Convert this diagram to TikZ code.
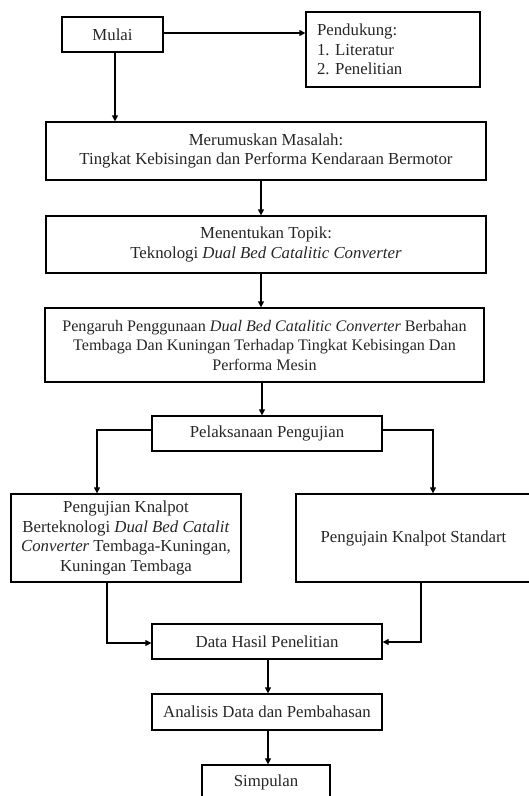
\documentclass[tikz,border=0pt]{standalone}
\usepackage{fontspec}
\setmainfont{Liberation Serif}
\usetikzlibrary{arrows.meta,calc}
\frenchspacing
\begin{document}
\begin{tikzpicture}[x=1pt,y=-1pt,
  box/.style={draw=black, line width=1.3pt, rectangle, inner sep=2pt, align=center,
    font=\fontsize{16.8}{19.5}\selectfont, text=black!85},
  conn/.style={draw=black, line width=1.3pt, -{Triangle[length=6pt,width=6pt]}}]
\useasboundingbox (0,0) rectangle (529,796);
\clip (0,0) rectangle (529,796);
\fill[white] (0,0) rectangle (529,796);

\node[box, minimum width=101pt, minimum height=35pt] (mulai) at (112.5,34.5) {Mulai};
\node[box, minimum width=174pt, minimum height=75pt, align=left, text width=152pt, inner xsep=11pt]
  (pendukung) at (393,49.5) {\frenchspacing Pendukung:\\1. Literatur\\2. Penelitian};
\node[box, minimum width=440pt, minimum height=58pt] (merumuskan) at (266,151)
  {Merumuskan Masalah:\\Tingkat Kebisingan dan Performa Kendaraan Bermotor};
\node[box, minimum width=440pt, minimum height=57pt] (menentukan) at (266,244.5)
  {Menentukan Topik:\\Teknologi \textit{Dual Bed Catalitic Converter}};
\node[box, minimum width=439pt, minimum height=74pt, font=\fontsize{16.1}{19.5}\selectfont] (pengaruh) at (264.5,345)
  {Pengaruh Penggunaan \textit{Dual Bed Catalitic Converter} Berbahan\\
   Tembaga Dan Kuningan Terhadap Tingkat Kebisingan Dan\\Performa Mesin};
\node[box, minimum width=230pt, minimum height=35pt] (pelaksanaan) at (267,433.5) {Pelaksanaan Pengujian};
\node[box, minimum width=230pt, minimum height=88pt] (kiri) at (126,538)
  {Pengujian Knalpot\\Berteknologi \textit{Dual Bed Catalit}\\\textit{Converter} Tembaga-Kuningan,\\Kuningan Tembaga};
\node[box, minimum width=235pt, minimum height=88pt] (kanan) at (413.5,538) {Pengujain Knalpot Standart};
\node[box, minimum width=230pt, minimum height=35pt] (data) at (267,641.5) {Data Hasil Penelitian};
\node[box, minimum width=230pt, minimum height=36pt] (analisis) at (267,712) {Analisis Data dan Pembahasan};
\node[box, minimum width=128pt, minimum height=35pt] (simpulan) at (266,782.5) {Simpulan};

\draw[conn] ([yshift=1.5pt]mulai.east) -- ([yshift=1.5pt]mulai.east -| pendukung.west);
\draw[conn] ([xshift=2.5pt]mulai.south) -- ([xshift=2.5pt]mulai.south |- merumuskan.north);
\draw[conn] ([xshift=-5pt]merumuskan.south) -- ([xshift=-5pt]menentukan.north);
\draw[conn] ([xshift=-5pt]menentukan.south) -- ([xshift=-3.5pt]pengaruh.north);
\draw[conn] ([xshift=-2.5pt]pengaruh.south) -- ([xshift=-5pt]pelaksanaan.north);
\draw[conn] ([yshift=3.5pt]pelaksanaan.west) -| ([xshift=-29pt]kiri.north);
\draw[conn] ([yshift=3.5pt]pelaksanaan.east) -| ([xshift=19.5pt]kanan.north);
\draw[conn] ([xshift=-19pt]kiri.south) |- ([yshift=-1.5pt]data.west);
\draw[conn] ([xshift=7.5pt]kanan.south) |- ([yshift=-0.5pt]data.east);
\draw[conn] ([xshift=1pt]data.south) -- ([xshift=1pt]analisis.north);
\draw[conn] ([xshift=1pt]analisis.south) -- ([xshift=2pt]simpulan.north);
\end{tikzpicture}
\end{document}
